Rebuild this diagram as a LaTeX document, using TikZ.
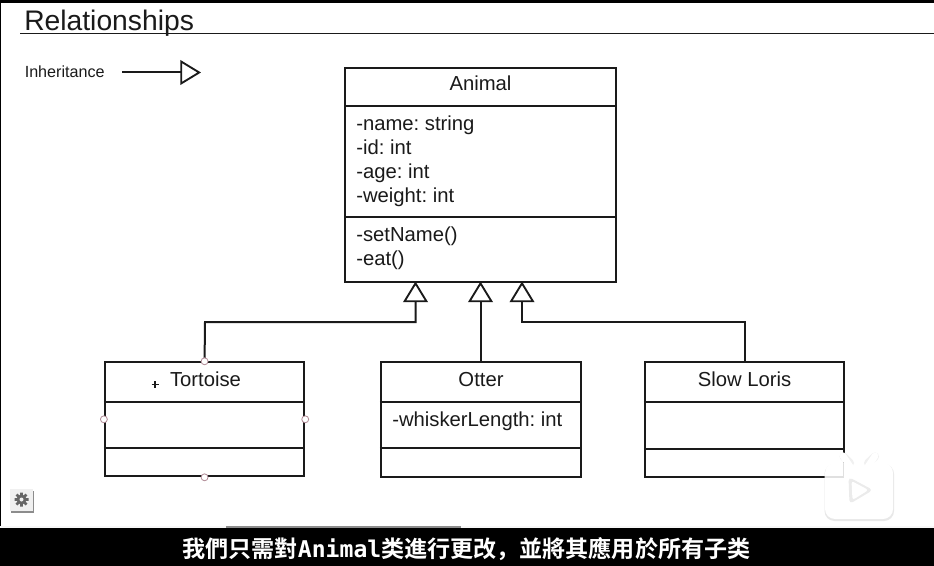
\documentclass[tikz,border=0pt]{standalone}
\usepackage{fontspec}
\usetikzlibrary{arrows.meta}
\setmainfont{Liberation Sans}
\newfontfamily\cjkfont{Noto Sans CJK SC}[BoldFont={* Bold}]
\newfontfamily\capmono{DejaVu Sans Mono}
\definecolor{ink}{HTML}{1A1A1A}
\definecolor{handle}{HTML}{B08A96}
\tikzset{
  classbox/.style={draw=ink,line width=1.5pt,fill=white,inner sep=0pt,anchor=north west},
  divider/.style={draw=ink,line width=1.5pt},
  title/.style={inner sep=0pt,anchor=base,font=\fontsize{15.2pt}{18pt}\selectfont,text=ink},
  member/.style={inner sep=0pt,anchor=base west,font=\fontsize{15.2pt}{18pt}\selectfont,text=ink},
  inh/.style={draw=ink,line width=1.5pt,-{Triangle[open,fill=white,length=15.5pt,width=18.5pt,line width=1.4pt]}},
  selhandle/.style={circle,draw=handle,fill=white,line width=.6pt,minimum size=5.2pt,inner sep=0pt}
}
\begin{document}
\frenchspacing
\begin{tikzpicture}[x=.75pt,y=-.75pt]
\useasboundingbox (0,0) rectangle (934,566);
\fill[white] (0,0) rectangle (934,566);
% frame of the video
\fill[black] (0,0) rectangle (934,3);
\fill[black] (0,0) rectangle (1,528);
\fill[black!3] (0,526) rectangle (934,528);
\fill[black!45] (226,525.5) rectangle (461,528);
\fill[black] (0,528) rectangle (934,566);
% heading
\node[inner sep=0pt,anchor=base west,font=\fontsize{21.2pt}{24pt}\selectfont,text=ink] (heading) at (24,31) {Relationships};
\coordinate (ruleL) at (20,33.5);
\coordinate (ruleR) at (934,33.5);
\draw[ink,line width=1.4pt] (ruleL) -- (ruleR);
% legend
\node[inner sep=0pt,anchor=base west,font=\fontsize{12.1pt}{14pt}\selectfont,text=ink] (legend) at (24.5,78) {Inheritance};
\coordinate (legA) at (122,72.5);
\coordinate (legB) at (201,72.5);
\draw[inh] (legA) -- (legB);
% classes
\node[classbox,minimum width=203pt,minimum height=160.5pt] (animal) at (344.3,66.8) {};
\draw[divider] (animal.west |- 0,106) -- (animal.east |- 0,106);
\draw[divider] (animal.west |- 0,217) -- (animal.east |- 0,217);
\node[title] (animalT) at (480.5,91) {Animal};
\node[member] (m1) at (356,130.5) {-name: string};
\node[member] (m2) at (356,154.5) {-id: int};
\node[member] (m3) at (356,178.5) {-age: int};
\node[member] (m4) at (356,202.5) {-weight: int};
\node[member] (m5) at (356,242) {-setName()};
\node[member] (m6) at (356,266) {-eat()};

\node[classbox,minimum width=149.5pt,minimum height=85.5pt] (tortoise) at (103.9,361.3) {};
\draw[divider] (tortoise.west |- 0,401.5) -- (tortoise.east |- 0,401.5);
\draw[divider] (tortoise.west |- 0,447.5) -- (tortoise.east |- 0,447.5);
\node[title] (tortoiseT) at (205.5,386.5) {Tortoise};

\node[classbox,minimum width=150pt,minimum height=86pt] (otter) at (379.9,361.3) {};
\draw[divider] (otter.west |- 0,402) -- (otter.east |- 0,402);
\draw[divider] (otter.west |- 0,448) -- (otter.east |- 0,448);
\node[title] (otterT) at (481,386.5) {Otter};
\node[member] (o1) at (392,426.5) {-whiskerLength: int};

\node[classbox,minimum width=149.5pt,minimum height=86pt] (loris) at (643.9,361.3) {};
\draw[divider] (loris.west |- 0,402) -- (loris.east |- 0,402);
\draw[divider] (loris.west |- 0,449) -- (loris.east |- 0,449);
\node[title] (lorisT) at (744.5,386.5) {Slow Loris};
% inheritance connectors
\coordinate (tipA) at (415.5,281.5);
\coordinate (tipB) at (480.5,281.5);
\coordinate (tipC) at (522,281.5);
\coordinate (bendA) at (205,322);
\coordinate (bendC) at (745,322);
\draw[inh] (tortoise.north) -- (bendA) -- (bendA -| tipA) -- (tipA);
\draw[inh] (otter.north -| tipB) -- (tipB);
\draw[inh] (loris.north -| bendC) -- (bendC) -- (bendC -| tipC) -- (tipC);
% selection handles and cursor on Tortoise
\node[selhandle] (h1) at (tortoise.north) {};
\node[selhandle] (h2) at (tortoise.south) {};
\node[selhandle] (h3) at (tortoise.west) {};
\node[selhandle] (h4) at (tortoise.east) {};
\draw[ink,line width=.9pt] (151.5,384.5) -- (158.5,384.5) (155,381) -- (155,388);
% settings button
\fill[black!45] (10.5,490.5) rectangle (33.5,513);
\fill[black!6] (10,488.5) rectangle (32.5,511);
\fill[black!60] (21.5,499.5) circle (5);
\draw[black!60,line width=2pt] (21.5,492.5) -- (21.5,506.5) (14.5,499.5) -- (28.5,499.5) (16.5,494.5) -- (26.5,504.5) (16.5,504.5) -- (26.5,494.5);
\fill[black!6] (21.5,499.5) circle (2);
% player logo
\fill[black!9,rounded corners=7.5pt] (824.5,464) rectangle (894,521);
\fill[white,rounded corners=7.5pt] (825,463) rectangle (893,519);
\draw[black!12,line width=1pt] (825,477) -- (843.5,477) -- (843.5,463);
\draw[black!6,line width=6pt,line cap=round] (843.5,456.5) -- (850,463);
\draw[black!6,line width=6pt,line cap=round] (875,456.5) -- (868,463);
\draw[white,line width=5pt,line cap=round] (843,456) -- (851,468) (875,456) -- (867,468);
\fill[black!8,rounded corners=3pt] (848.5,477) -- (873,490) -- (849.5,504) -- cycle;
\fill[white,rounded corners=2pt] (851.5,481) -- (868.5,490) -- (852.5,500) -- cycle;
% subtitle
\node[inner sep=0pt,anchor=base,text=white,font=\cjkfont\bfseries\fontsize{17.3pt}{20pt}\selectfont] (subtitle) at (466.5,557.5) {我們只需對{\capmono\bfseries Animal}类進行更改，並將其應用於所有子类};
\end{tikzpicture}
\end{document}
